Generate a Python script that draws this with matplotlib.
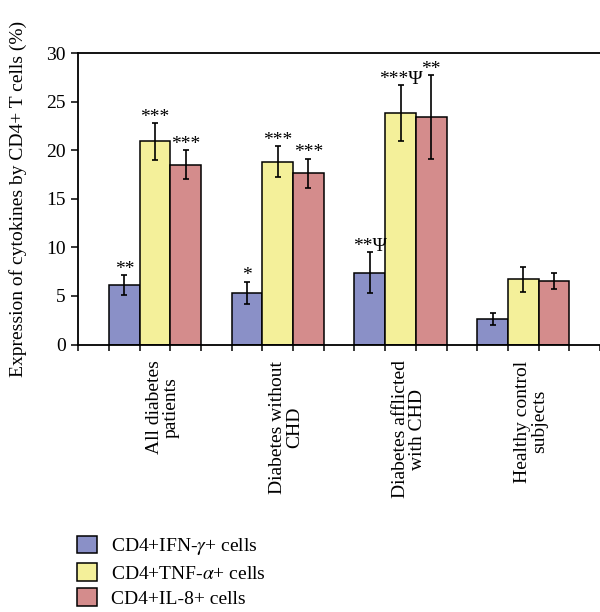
import matplotlib
matplotlib.use("Agg")
import matplotlib.pyplot as plt
import matplotlib.transforms as mtransforms
import numpy as np

# ---- data ----
groups = ["All diabetes\npatients", "Diabetes without\nCHD",
          "Diabetes afflicted\nwith CHD", "Healthy control\nsubjects"]
series_names = ["CD4+IFN-$\\gamma$+ cells", "CD4+TNF-$\\alpha$+ cells", "CD4+IL-8+ cells"]
ifn = [6.1, 5.3, 7.4, 2.6]
ifn_err = [1.05, 1.15, 2.1, 0.63]
tnf = [20.9, 18.8, 23.8, 6.7]
tnf_err = [1.9, 1.6, 2.9, 1.3]
il8 = [18.5, 17.6, 23.4, 6.55]
il8_err = [1.5, 1.5, 4.3, 0.85]
ifn_sig = ["**", "*", "**\u03a8", ""]
tnf_sig = ["***", "***", "***\u03a8", ""]
il8_sig = ["***", "***", "**", ""]
yticks = [0, 5, 10, 15, 20, 25, 30]
ylabel = "Expression of cytokines by CD4+ T cells (%)"

plt.rcParams['font.family'] = ['Liberation Serif', 'DejaVu Serif']
plt.rcParams['mathtext.fontset'] = 'stix'

colors = ['#8A90C7', '#F4F09A', '#D48C8C']
W, H = 600, 612
fig = plt.figure(figsize=(W / 100, H / 100), dpi=100)
ax = fig.add_axes([78.3 / W, 1 - 344.5 / H, 1 - 78.3 / W, (344.5 - 53) / H])

x = np.arange(len(groups))
bw = 0.25
all_vals = [ifn, tnf, il8]
all_errs = [ifn_err, tnf_err, il8_err]
all_sig = [ifn_sig, tnf_sig, il8_sig]
handles = []
for k in range(3):
    pos = x + (k - 1) * bw
    b = ax.bar(pos, all_vals[k], bw, color=colors[k], edgecolor='black',
               linewidth=1.1, zorder=2, label=series_names[k])
    handles.append(b)
    ax.errorbar(pos, all_vals[k], yerr=all_errs[k], fmt='none', ecolor='black',
                elinewidth=1.2, capsize=2.0, capthick=1.2, zorder=3)
    for i in range(len(groups)):
        if all_sig[k][i]:
            ax.text(pos[i], all_vals[k][i] + all_errs[k][i] + 0.15, all_sig[k][i],
                    ha='center', va='baseline', fontsize=14, zorder=4)

ax.set_ylim(0, 30)
ax.set_xlim(-0.625, 3.585)
ax.set_yticks(yticks)
ax.tick_params(axis='y', direction='out', length=5, width=1.1, labelsize=14, pad=4)
edges = np.arange(-0.625, 3.7, bw)
ax.set_xticks(edges)
ax.set_xticklabels([])
ax.tick_params(axis='x', direction='out', length=4, width=1.1)
for s in ['left', 'bottom', 'top']:
    ax.spines[s].set_linewidth(1.3)
ax.spines['right'].set_visible(False)

off = mtransforms.ScaledTranslation(8 / 100, -16 / 100, fig.dpi_scale_trans)
for i, g in enumerate(groups):
    ax.text(x[i], 0, g, rotation=90, ha='center', va='top', multialignment='center',
            fontsize=14, transform=ax.transData + off, linespacing=1.0)

fig.text(18 / W, 1 - 199 / H, ylabel, rotation=90, ha='center', va='center', fontsize=14)

fig.legend(handles=handles, labels=series_names, loc='upper left',
           bbox_to_anchor=(77.3 / W, 1 - 536 / H), frameon=False, fontsize=14,
           handlelength=1.0, handleheight=1.0, handletextpad=0.75, labelspacing=0.3,
           borderpad=0, borderaxespad=0)

fig.savefig("out.png", dpi=100)
